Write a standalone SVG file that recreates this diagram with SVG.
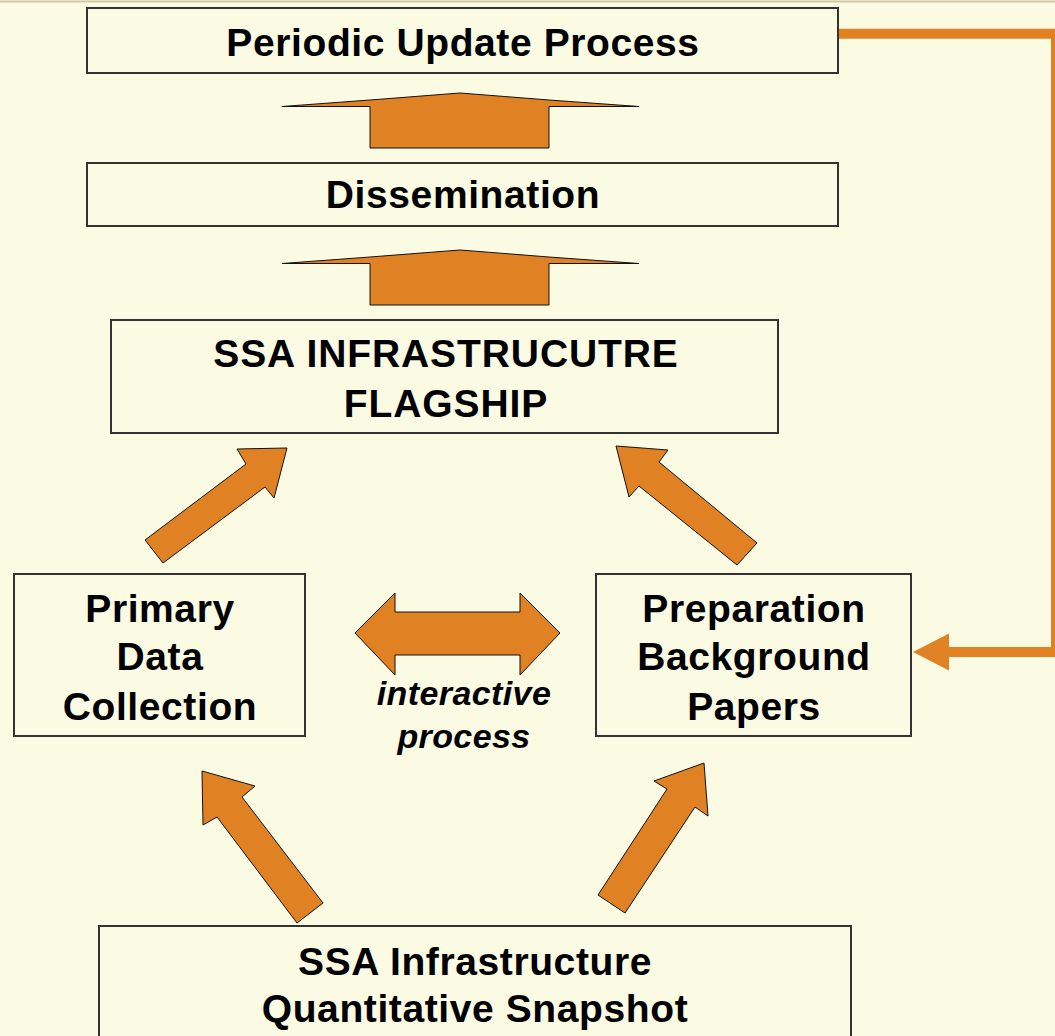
<svg xmlns="http://www.w3.org/2000/svg" width="1055" height="1036" viewBox="0 0 1055 1036">
<style>
.box{fill:#FBFAE3;stroke:#333;stroke-width:2}
.t{font-family:"Liberation Sans",Arial,sans-serif;font-weight:bold;font-size:39px;fill:#000;text-anchor:middle;letter-spacing:0.6px}
.ar{fill:#E08224;stroke:#111;stroke-width:1;stroke-linejoin:miter}
.it{font-family:"Liberation Sans",Arial,sans-serif;font-weight:bold;font-style:italic;font-size:34px;fill:#000;text-anchor:middle;letter-spacing:0.4px}
</style>
<rect x="0" y="0" width="1055" height="1036" fill="#FBFAE3"/>
<line x1="0" y1="1.5" x2="1055" y2="1.5" stroke="#D2C6A4" stroke-width="2"/>

<g id="connectors">
  <polygon class="ar" points="282,106.5 370,100 460,93 549,100 639,106.5 549,106.5 549,148 370,148 370,106.5"/>
  <polygon class="ar" points="282,263.5 370,257 460,250 549,257 639,263.5 549,263.5 549,305 370,305 370,263.5"/>
  <polygon class="ar" points="145,540 246,464 237,449 287,448 274,498 265,487 163,563"/>
  <polygon class="ar" points="616,446 668,450 659,462 757,543 737,565 639,486 629,497"/>
  <polygon class="ar" points="202,771 255,786 242,797 323,903 297,923 217,817 203,825"/>
  <polygon class="ar" points="704,763 708,816 695,807 625,913 598,895 667,789 654,781"/>
  <polygon class="ar" points="355,633 395,593 395,612 520,612 520,593 560,633 520,675 520,655 395,655 395,675"/>
  <polyline points="838,33.8 1056,33.8 1056,652 945,652" fill="none" stroke="#E08224" stroke-width="10"/>
  <polygon points="913,652 949,633.5 949,670.5" fill="#E08224"/>
  <text class="it" x="464" y="705">interactive</text>
  <text class="it" x="464" y="748">process</text>
</g>

<g id="periodic">
  <rect class="box" x="87" y="8" width="751" height="65"/>
  <text class="t" x="463" y="56">Periodic Update Process</text>
</g>
<g id="dissemination">
  <rect class="box" x="87" y="163" width="751" height="63"/>
  <text class="t" x="463" y="208">Dissemination</text>
</g>
<g id="flagship">
  <rect class="box" x="111" y="320" width="667" height="113"/>
  <text class="t" x="446" y="367" style="letter-spacing:0.9px">SSA INFRASTRUCUTRE</text>
  <text class="t" x="446" y="417" style="letter-spacing:0.9px">FLAGSHIP</text>
</g>
<g id="primary">
  <rect class="box" x="14" y="574" width="291" height="162"/>
  <text class="t" x="160" y="622">Primary</text>
  <text class="t" x="160" y="670">Data</text>
  <text class="t" x="160" y="720">Collection</text>
</g>
<g id="preparation">
  <rect class="box" x="596" y="574" width="315" height="162"/>
  <text class="t" x="754" y="622">Preparation</text>
  <text class="t" x="754" y="670">Background</text>
  <text class="t" x="754" y="720">Papers</text>
</g>
<g id="snapshot">
  <rect class="box" x="99" y="926" width="752" height="130"/>
  <text class="t" x="475" y="975">SSA Infrastructure</text>
  <text class="t" x="475" y="1022">Quantitative Snapshot</text>
</g>
</svg>
